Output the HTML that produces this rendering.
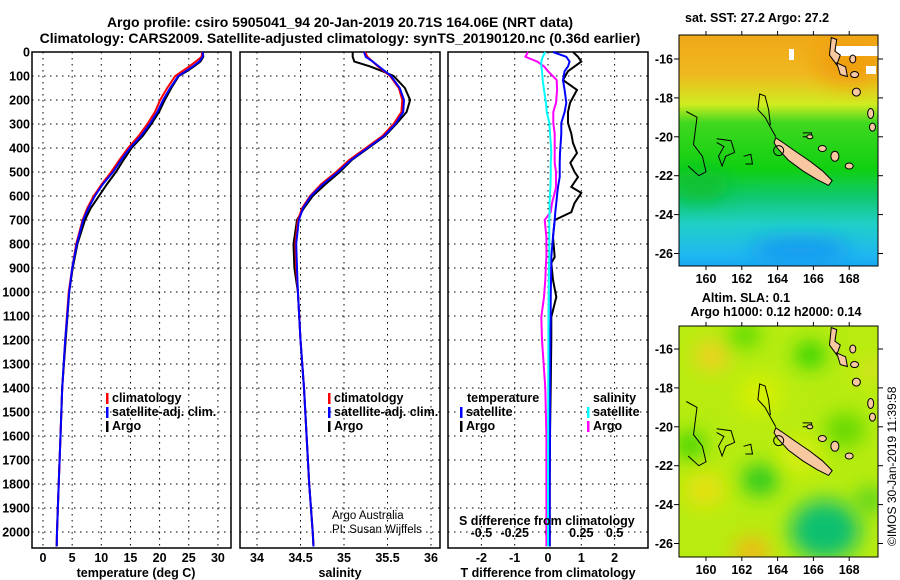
<!DOCTYPE html>
<html><head><meta charset="utf-8">
<style>
body{margin:0;background:#fff;}
svg{display:block;font-family:"Liberation Sans",sans-serif;}
.b{font-weight:bold;font-size:12.5px;}
.t{font-weight:bold;font-size:14px;}
.grid{stroke:#000;stroke-width:1;stroke-dasharray:1.5,4.5;}
</style></head>
<body>
<svg id="c" width="900" height="580" viewBox="0 0 900 580">
<defs>
<linearGradient id="sstg" x1="0" y1="0" x2="0" y2="1">
<stop offset="0" stop-color="#f0a818"/><stop offset="0.17" stop-color="#f0b820"/>
<stop offset="0.3" stop-color="#d0ec20"/><stop offset="0.38" stop-color="#40d820"/>
<stop offset="0.58" stop-color="#10d010"/><stop offset="0.7" stop-color="#10c870"/>
<stop offset="0.82" stop-color="#20d0c8"/><stop offset="0.95" stop-color="#20b8f0"/>
<stop offset="1" stop-color="#18a8f0"/>
</linearGradient>
<filter id="blur" x="-100%" y="-100%" width="300%" height="300%"><feGaussianBlur stdDeviation="10"/></filter>
<clipPath id="m1"><rect x="679" y="35" width="199" height="231"/></clipPath>
<clipPath id="m2"><rect x="679" y="326" width="199" height="231"/></clipPath>
</defs>
<text class="t" x="340" y="27" text-anchor="middle">Argo profile: csiro 5905041_94 20-Jan-2019 20.71S 164.06E (NRT data)</text>
<text class="t" x="340" y="43" text-anchor="middle">Climatology: CARS2009. Satellite-adjusted climatology: synTS_20190120.nc (0.36d earlier)</text>
<g id="plots"></g>
<g id="maps"></g>
</svg>
<script>
const NS="http://www.w3.org/2000/svg";
const svg=document.getElementById('c');
// ---------- data ----------
const depthTicks=[0,100,200,300,400,500,600,700,800,900,1000,1100,1200,1300,1400,1500,1600,1700,1800,1900,2000];
const tTicks=[0,5,10,15,20,25,30];
const sTicks=[34,34.5,35,35.5,36];
const dTTicks=[-2,-1,0,1,2];
const dSTicks=[-0.5,-0.25,0,0.25,0.5];
const dSTickLabels=["-0.5","-0.25","0","0.25","0.5"];
const depths=[0,20,40,60,80,100,150,200,250,300,350,400,450,500,550,600,650,700,800,900,1000,1200,1400,1600,1800,2000,2060];
const tClim=[27.3,27.2,26.2,25.1,23.9,22.7,21.3,20.1,19.2,17.9,16.4,14.6,13.1,11.7,10.1,8.7,7.6,6.8,5.7,5.0,4.4,3.8,3.3,3.0,2.7,2.4,2.35];
const tSat=[27.4,27.4,26.8,25.7,24.5,23.2,21.8,20.6,19.6,18.3,16.8,14.9,13.4,12.0,10.3,8.9,7.8,6.9,5.8,5.0,4.5,3.8,3.3,3.0,2.7,2.4,2.35];
const tArgo=[27.4,27.5,27.0,25.9,24.7,23.3,22.0,20.9,19.9,18.6,17.1,15.2,13.8,12.5,11.0,9.6,8.2,7.2,5.9,5.1,4.5,3.9,3.3,3.0,2.7,2.4,2.35];
const sClim=[35.24,35.27,35.33,35.39,35.46,35.53,35.63,35.67,35.66,35.57,35.44,35.25,35.06,34.91,34.74,34.61,34.52,34.47,34.44,34.45,34.47,34.5,34.54,34.57,34.6,34.64,34.65];
const sSat=[35.23,35.25,35.33,35.40,35.47,35.54,35.64,35.69,35.68,35.59,35.46,35.27,35.08,34.93,34.76,34.62,34.53,34.48,34.45,34.46,34.47,34.5,34.54,34.57,34.6,34.64,34.65];
const sArgo=[35.1,35.1,35.12,35.3,35.44,35.57,35.7,35.76,35.72,35.6,35.47,35.28,35.09,34.95,34.79,34.64,34.54,34.46,34.42,34.43,34.47,34.5,34.54,34.57,34.6,34.64,34.65];
const dDepths=[0,20,40,60,80,117,158,212,250,296,340,379,421,462,500,521,562,587,629,667,700,771,854,879,950,1021,1104,1200,1400,1600,1800,2000,2060];
const dTArgo=[0.75,0.9,1.0,0.8,0.6,0.45,0.87,0.66,0.6,0.6,0.7,0.75,0.87,0.67,0.8,0.9,0.7,1.0,0.8,0.7,0.2,0.15,0.2,0.1,0.15,0.25,0.1,0.1,0.08,0.06,0.05,0.05,0.05];
const dTSat=[0.15,0.55,0.65,0.6,0.5,0.45,0.5,0.55,0.5,0.4,0.4,0.38,0.36,0.35,0.35,0.35,0.3,0.28,0.25,0.22,0.2,0.15,0.1,0.1,0.09,0.08,0.08,0.07,0.06,0.06,0.05,0.05,0.05];
const dSSat=[-0.02,-0.04,-0.05,-0.05,-0.045,-0.04,-0.03,-0.015,-0.01,0.01,0.015,0.02,0.025,0.02,0.02,0.02,0.018,0.015,0.012,0.012,0.01,0.01,0.01,0.008,0.006,0.005,0.004,0.003,0.002,0.001,0,0,0];
const dSArgo=[-0.15,-0.17,-0.08,-0.03,0.0,0.065,0.068,0.06,0.04,0.04,0.05,0.05,0.05,0.05,0.06,0.06,0.06,0.05,0.03,0.02,-0.025,-0.012,-0.012,-0.015,-0.02,-0.03,-0.05,-0.045,-0.02,-0.012,-0.012,-0.012,-0.012];

function el(tag,attrs,parent,txt){const e=document.createElementNS(NS,tag);for(const k in attrs)e.setAttribute(k,attrs[k]);if(txt!==undefined)e.textContent=txt;(parent||svg).appendChild(e);return e;}
const g=document.getElementById('plots');
const yD=d=>52+d*0.24;
const pTop=52,pBot=548;
function panel(x0,x1,xs,ticks,labels,name){
  const p=el('g',{},g);
  
  
  ticks.forEach(t=>{el('line',{x1:xs(t),x2:xs(t),y1:pTop,y2:pBot,class:'grid'},p);});
  depthTicks.forEach(d=>{el('line',{x1:x0,x2:x1,y1:yD(d),y2:yD(d),class:'grid'},p);});
  el('rect',{x:x0,y:pTop,width:x1-x0,height:pBot-pTop,fill:'none',stroke:'#000','stroke-width':1.5},p);
  ticks.forEach((t,i)=>{if(labels){const tx=el('text',{x:xs(t),y:562,'text-anchor':'middle',class:'b'},p,labels[i]);}});
  return p;
}
function line(p,xs,xv,dv,color,w,name){
  const pts=xv.map((v,i)=>xs(v).toFixed(1)+','+yD(dv[i]).toFixed(1)).join(' ');
  const l=el('polyline',{points:pts,fill:'none',stroke:color,'stroke-width':w},p);
  
  
}
depthTicks.forEach(d=>{const t=el('text',{x:30,y:yD(d)+4.5,'text-anchor':'end',class:'b'},g,String(d));});
const xT=v=>43+v*5.83;
const p1=panel(32,231,xT,tTicks,tTicks.map(String),'temperature-panel');
line(p1,xT,tArgo,depths,'#000',2,'temperature-argo-line');
line(p1,xT,tClim,depths,'#f00',2,'temperature-climatology-line');
line(p1,xT,tSat,depths,'#00f',2,'temperature-satellite-line');
const xS=v=>257+(v-34)*87;
const p2=panel(240,440,xS,sTicks,sTicks.map(String),'salinity-panel');
line(p2,xS,sArgo,depths,'#000',2,'salinity-argo-line');
line(p2,xS,sClim,depths,'#f00',2,'salinity-climatology-line');
line(p2,xS,sSat,depths,'#00f',2,'salinity-satellite-line');
const xdT=v=>548+v*33.3;
const xdS=v=>548+v*133.2;
const p3=panel(448,648,xdT,dTTicks,dTTicks.map(String),'difference-panel');
dSTicks.forEach((t,i)=>{const tx=el('text',{x:xdS(t),y:537,'text-anchor':'middle',class:'b'},p3,dSTickLabels[i]);});
line(p3,xdT,dTArgo,dDepths,'#000',2,'tdiff-argo-line');
line(p3,xdT,dTSat,dDepths,'#00f',2,'tdiff-satellite-line');
line(p3,xdS,dSArgo,dDepths,'#f0f',2,'sdiff-argo-line');
line(p3,xdS,dSSat,dDepths,'#0ff',2,'sdiff-satellite-line');
[['temperature (deg C)',136,'x-axis-title-temperature'],['salinity',340,'x-axis-title-salinity'],['T difference from climatology',548,'x-axis-title-tdiff']].forEach(a=>{const t=el('text',{x:a[1],y:577,'text-anchor':'middle',class:'b'},g,a[0]);});
const st=el('text',{x:459,y:525,class:'b'},g,'S difference from climatology');


function leg(x,y,color,txt,name){const lg=el('g',{},g);el('rect',{x:x,y:y-9,width:2.5,height:11,fill:color},lg);el('text',{x:x+6,y:y,class:'b'},lg,txt);}
leg(106,402,'#f00','climatology','legend-climatology');
leg(106,416,'#00f','satellite-adj. clim.','legend-satellite-adj');
leg(106,430,'#000','Argo','legend-argo');
leg(328,402,'#f00','climatology','legend-climatology-2');
leg(328,416,'#00f','satellite-adj. clim.','legend-satellite-adj-2');
leg(328,430,'#000','Argo','legend-argo-2');
el('text',{x:467,y:402,class:'b'},g,'temperature');
el('text',{x:593,y:402,class:'b'},g,'salinity');
leg(460,416,'#00f','satellite','legend-t-satellite');
leg(460,430,'#000','Argo','legend-t-argo');
leg(587,416,'#0ff','satellite','legend-s-satellite');
leg(587,430,'#f0f','Argo','legend-s-argo');
el('text',{x:332,y:519,'font-size':'11.5px'},g,'Argo Australia');
el('text',{x:332,y:533,'font-size':'11.5px'},g,'PI: Susan Wijffels');

// ---------- maps ----------
const mg=document.getElementById('maps');
const lonTicks=[160,162,164,166,168];
const latTicks=[-16,-18,-20,-22,-24,-26];
const xL=lon=>706+(lon-160)*17.9;
function drawMap(y0,h,lat16,name,clip,base){
  const m=el('g',{},mg);
  
  
  const yL=lat=>lat16+(-16-lat)*19.45;
  const P=a=>a.map(p=>xL(p[0]).toFixed(1)+','+yL(p[1]).toFixed(1)).join(' ');
  const c=el('g',{'clip-path':'url(#'+clip+')'},m);
  base(c,yL);
  const isl=[[163.9,-20.05],[164.3,-20.3],[165.0,-20.75],[165.8,-21.25],[166.5,-21.75],[167.05,-22.25],[166.85,-22.5],[166.2,-22.2],[165.4,-21.75],[164.6,-21.2],[164.0,-20.6],[163.8,-20.3]];
  el('polygon',{points:P(isl),fill:'#f8c8a0',stroke:'#000','stroke-width':1},c);
  el('polyline',{points:P([[163.9,-20.0],[163.6,-19.5],[163.3,-19.0],[162.9,-18.6],[163.0,-17.8],[163.3,-17.9],[163.5,-18.6],[163.6,-19.4]]),fill:'none',stroke:'#000','stroke-width':1},c);
  el('polyline',{points:P([[158.9,-18.7],[159.5,-19.0],[159.3,-20.4],[159.8,-21.0],[160.0,-21.8],[159.6,-22.0],[159.0,-21.5]]),fill:'none',stroke:'#000','stroke-width':1},c);
  el('polyline',{points:P([[160.6,-20.1],[161.4,-20.2],[161.6,-20.8],[161.1,-21.0],[160.9,-21.5],[160.7,-21.0],[161.0,-20.5],[160.6,-20.3]]),fill:'none',stroke:'#000','stroke-width':1},c);
  el('polyline',{points:P([[162.1,-21.0],[162.5,-20.9],[162.6,-21.4],[162.2,-21.4]]),fill:'none',stroke:'#000','stroke-width':1},c);
  el('polyline',{points:P([[165.4,-19.8],[165.9,-19.8],[165.9,-20.0],[165.4,-20.0]]),fill:'none',stroke:'#000','stroke-width':1},c);
  el('polygon',{points:P([[167.0,-14.9],[167.3,-15.0],[167.2,-15.6],[167.5,-15.8],[167.3,-16.3],[166.9,-15.8]]),fill:'#f8c8a0',stroke:'#000','stroke-width':1},c);
  el('polygon',{points:P([[167.3,-16.2],[167.8,-16.4],[167.9,-16.9],[167.5,-16.8]]),fill:'#f8c8a0',stroke:'#000','stroke-width':1},c);
  [[168.2,-16.0,3,4],[168.3,-16.8,4,3],[168.4,-17.7,4,4],[169.2,-18.8,3,5],[169.3,-19.5,3,4],[166.5,-20.6,4,3],[167.2,-21.0,4,5],[168.0,-21.5,4,3],[165.8,-20.0,3,2]].forEach(p=>el('ellipse',{cx:xL(p[0]),cy:yL(p[1]),rx:p[2],ry:p[3],fill:'#f8c8a0',stroke:'#000','stroke-width':1},c));
  el('circle',{cx:xL(164.06),cy:yL(-20.71),r:5,fill:'none',stroke:'#000','stroke-width':1},c);
  el('rect',{x:679,y:y0,width:199,height:h,fill:'none',stroke:'#000','stroke-width':1},m);
  latTicks.forEach(l=>{el('line',{x1:674,x2:679,y1:yL(l),y2:yL(l),stroke:'#000'},m);el('line',{x1:878,x2:883,y1:yL(l),y2:yL(l),stroke:'#000'},m);el('text',{x:673,y:yL(l)+4.5,'text-anchor':'end',class:'b'},m,String(l));});
  lonTicks.forEach(l=>{el('line',{x1:xL(l),x2:xL(l),y1:y0+h,y2:y0+h+4,stroke:'#000'},m);el('line',{x1:xL(l),x2:xL(l),y1:y0,y2:y0-4,stroke:'#000'},m);el('text',{x:xL(l),y:y0+h+17,'text-anchor':'middle',class:'b'},m,String(l));});
}
drawMap(35,231,59,'sst-map','m1',(c,yL)=>{
  el('rect',{x:679,y:35,width:199,height:231,fill:'url(#sstg)'},c);
  el('ellipse',{cx:850,cy:60,rx:35,ry:25,fill:'#f0a010',filter:'url(#blur)'},c);
  el('ellipse',{cx:700,cy:185,rx:30,ry:15,fill:'#10c030',filter:'url(#blur)'},c);
  el('ellipse',{cx:800,cy:250,rx:50,ry:12,fill:'#1898f0',filter:'url(#blur)'},c);
  el('rect',{x:789,y:49,width:5,height:11,fill:'#fff'},c);
  el('rect',{x:836,y:46,width:42,height:10,fill:'#fff'},c);
  el('rect',{x:866,y:66,width:10,height:8,fill:'#fff'},c);
});
drawMap(326,231,349,'sla-map','m2',(c,yL)=>{
  el('rect',{x:679,y:326,width:199,height:231,fill:'#b8ec10'},c);
  [[712,356,18,'#f0d020'],[745,335,15,'#50d800'],[810,355,15,'#20d000'],[870,370,12,'#e0e020'],[760,395,22,'#d8f000'],[690,445,15,'#30d000'],[845,430,20,'#60d800'],[760,480,18,'#20c820'],[705,490,20,'#e8e010'],[825,530,35,'#10c070'],[752,552,18,'#f0b818'],[800,455,20,'#d8ee10'],[870,500,15,'#50d020']].forEach(b=>el('ellipse',{cx:b[0],cy:b[1],rx:b[2],ry:b[2]*0.85,fill:b[3],filter:'url(#blur)'},c));
});
el('text',{x:685,y:22,class:'b'},mg,'sat. SST: 27.2 Argo: 27.2');
el('text',{x:746,y:302,'text-anchor':'middle',class:'b'},mg,'Altim. SLA: 0.1');
el('text',{x:776,y:316,'text-anchor':'middle',class:'b'},mg,'Argo h1000: 0.12 h2000: 0.14');
const cr=el('text',{x:0,y:0,'font-size':'12px',transform:'translate(896,546) rotate(-90)'},mg,'©IMOS 30-Jan-2019 11:39:58');


</script>
</body></html>
